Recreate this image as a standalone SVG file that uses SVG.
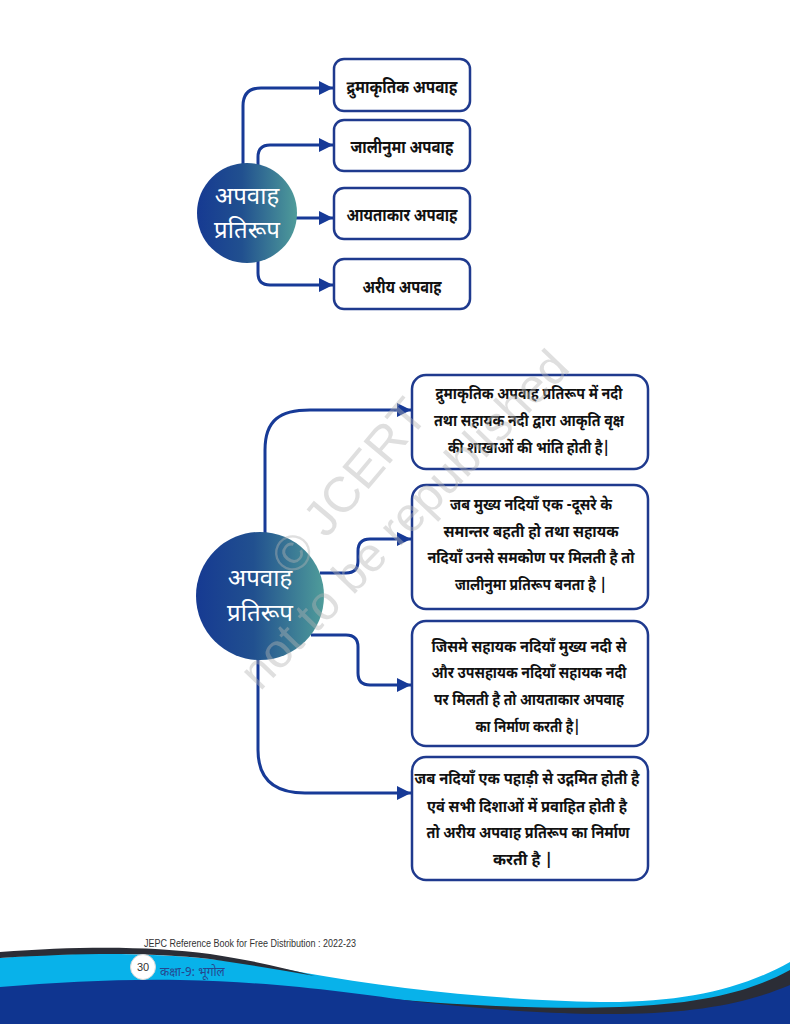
<svg xmlns="http://www.w3.org/2000/svg" width="790" height="1024" viewBox="0 0 790 1024">
<style>
.box{fill:#ffffff;stroke:#1f3a8e;stroke-width:2.5}
.lbl{font-family:"Noto Sans Devanagari","Noto Sans","Lohit Devanagari",sans-serif;font-weight:bold;fill:#111111;text-anchor:middle}
.t1{font-size:17px}
.t2{font-size:16px}
.ctr{font-family:"Noto Sans Devanagari","Noto Sans","Lohit Devanagari",sans-serif;fill:#ffffff;text-anchor:middle;font-size:24px}
.con{fill:none;stroke:#173a97;stroke-width:3;marker-end:url(#ah)}
.wm{font-family:"Liberation Sans",Arial,sans-serif;fill:#b4b4b4;opacity:0.42}
</style>
<defs>
<linearGradient id="cg" x1="0" y1="0" x2="1" y2="0">
<stop offset="0" stop-color="#163a92"/>
<stop offset="0.45" stop-color="#21508f"/>
<stop offset="1" stop-color="#4f9c9a"/>
</linearGradient>
<marker id="ah" markerUnits="userSpaceOnUse" viewBox="0 0 14 14" refX="14" refY="7" markerWidth="14" markerHeight="14" orient="auto">
<path d="M0,0 L14,7 L0,14 Z" fill="#173a97"/>
</marker>
</defs>
<rect width="790" height="1024" fill="#ffffff"/>

<g id="connectors">
<path class="con" d="M243,165 L243,106 Q243,88 261,88 L333,88"/>
<path class="con" d="M258,166 L258,157 Q258,145 270,145 L333,145"/>
<path class="con" d="M296,218 L333,218"/>
<path class="con" d="M258,261 L258,273 Q258,285 270,285 L333,285"/>
<path class="con" d="M265,533 L265,450 C265,420 280,410 310,410 L411,410"/>
<path class="con" d="M320,573 L346,573 Q358,573 358,561 L358,551 Q358,539 370,539 L411,539"/>
<path class="con" d="M311,635 L346,635 Q358,635 358,647 L358,673 Q358,685 370,685 L411,685"/>
<path class="con" d="M258,660 L258,750 C258,780 275,793 305,793 L411,793"/>
</g>

<g id="top-center">
<circle cx="247" cy="213" r="50" fill="url(#cg)"/>
<text class="ctr" x="247" y="204">अपवाह</text>
<text class="ctr" x="247" y="238">प्रतिरूप</text>
</g>
<g id="top-box1">
<rect class="box" x="334" y="59" width="136" height="52" rx="10"/>
<text class="lbl t1" x="402" y="93" textLength="111" lengthAdjust="spacingAndGlyphs">द्रुमाकृतिक अपवाह</text>
</g>
<g id="top-box2">
<rect class="box" x="334" y="120" width="136" height="51" rx="10"/>
<text class="lbl t1" x="402" y="153" textLength="103" lengthAdjust="spacingAndGlyphs">जालीनुमा अपवाह</text>
</g>
<g id="top-box3">
<rect class="box" x="334" y="188" width="136" height="51" rx="10"/>
<text class="lbl t1" x="402" y="221" textLength="111" lengthAdjust="spacingAndGlyphs">आयताकार अपवाह</text>
</g>
<g id="top-box4">
<rect class="box" x="334" y="259" width="136" height="50" rx="10"/>
<text class="lbl t1" x="402" y="293" textLength="79" lengthAdjust="spacingAndGlyphs">अरीय अपवाह</text>
</g>

<g id="bottom-center">
<circle cx="260" cy="596" r="64" fill="url(#cg)"/>
<text class="ctr" x="260" y="586">अपवाह</text>
<text class="ctr" x="260" y="621">प्रतिरूप</text>
</g>
<g id="bottom-box1">
<rect class="box" x="412" y="375" width="236" height="94" rx="14"/>
<text class="lbl t2" x="529" y="399" textLength="187" lengthAdjust="spacingAndGlyphs">द्रुमाकृतिक अपवाह प्रतिरूप में नदी</text>
<text class="lbl t2" x="529" y="426" textLength="190" lengthAdjust="spacingAndGlyphs">तथा  सहायक नदी द्वारा आकृति वृक्ष</text>
<text class="lbl t2" x="529" y="453" textLength="162" lengthAdjust="spacingAndGlyphs">की शाखाओं की भांति होती है|</text>
</g>
<g id="bottom-box2">
<rect class="box" x="412" y="485" width="236" height="124" rx="14"/>
<text class="lbl t2" x="531" y="510" textLength="162" lengthAdjust="spacingAndGlyphs">जब मुख्य नदियाँ एक -दूसरे के</text>
<text class="lbl t2" x="531" y="537" textLength="175" lengthAdjust="spacingAndGlyphs">समान्तर बहती  हो तथा सहायक</text>
<text class="lbl t2" x="531" y="563" textLength="207" lengthAdjust="spacingAndGlyphs">नदियाँ उनसे समकोण पर मिलती है तो</text>
<text class="lbl t2" x="531" y="590" textLength="152" lengthAdjust="spacingAndGlyphs">जालीनुमा प्रतिरूप बनता है |</text>
</g>
<g id="bottom-box3">
<rect class="box" x="412" y="621" width="236" height="125" rx="14"/>
<text class="lbl t2" x="529" y="652" textLength="195" lengthAdjust="spacingAndGlyphs">जिसमे सहायक नदियाँ मुख्य नदी से</text>
<text class="lbl t2" x="529" y="678" textLength="195" lengthAdjust="spacingAndGlyphs">और उपसहायक नदियाँ सहायक नदी</text>
<text class="lbl t2" x="529" y="705" textLength="190" lengthAdjust="spacingAndGlyphs">पर मिलती है तो आयताकार अपवाह</text>
<text class="lbl t2" x="528" y="732" textLength="105" lengthAdjust="spacingAndGlyphs">का निर्माण करती है|</text>
</g>
<g id="bottom-box4">
<rect class="box" x="412" y="757" width="236" height="123" rx="14"/>
<text class="lbl t2" x="527" y="784" textLength="225" lengthAdjust="spacingAndGlyphs">जब नदियाँ एक पहाड़ी से उद्गमित होती है</text>
<text class="lbl t2" x="527" y="812" textLength="200" lengthAdjust="spacingAndGlyphs">एवं सभी दिशाओं में प्रवाहित होती है</text>
<text class="lbl t2" x="528" y="838" textLength="203" lengthAdjust="spacingAndGlyphs">तो अरीय अपवाह प्रतिरूप का निर्माण</text>
<text class="lbl t2" x="523" y="865" textLength="60" lengthAdjust="spacingAndGlyphs">करती है |</text>
</g>

<g id="watermark">
<text class="wm" font-size="50" transform="translate(294,578) rotate(-50)">© JCERT</text>
<text class="wm" font-size="48" transform="translate(260,692) rotate(-46)">not to be republished</text>
</g>

<g id="footer">
<path d="M0,958 C100,950 200,953 300,972 C400,990 500,1000 600,1002 C680,1003 740,990 790,962 L790,1024 L0,1024 Z" fill="#08b2ea"/>
<path d="M0,952 C80,946 150,946 210,954 C250,960 280,967 315,976 C280,970 245,964 210,959 C150,952 80,953 0,958 Z" fill="#2b2d36"/>
<path d="M390,999 C480,1007 560,1009 620,1007 C700,1004 750,992 790,970 L790,992 C750,1006 700,1014 620,1015 C560,1015 480,1011 390,1001 Z" fill="#2b2d36"/>
<path d="M0,987 C60,982 120,979 180,980 C280,982 350,993 420,1002 C500,1011 560,1014 620,1014 C700,1013 750,1002 790,985 L790,1024 L0,1024 Z" fill="#0f3590"/>
<text x="144" y="947" font-family="'Liberation Sans Narrow','Liberation Sans',Arial,sans-serif" font-size="10.5" fill="#333333" textLength="212" lengthAdjust="spacingAndGlyphs">JEPC Reference Book for Free Distribution : 2022-23</text>
<circle cx="143" cy="967" r="12.5" fill="#ffffff" stroke="#d8d8d8" stroke-width="1"/>
<text x="143" y="971" font-family="'Liberation Sans',Arial,sans-serif" font-size="11" fill="#333333" text-anchor="middle">30</text>
<text x="160" y="976" font-family="'Noto Sans Devanagari','Noto Sans',sans-serif" font-size="12" fill="#26478f">कक्षा-9: भूगोल</text>
</g>
</svg>
